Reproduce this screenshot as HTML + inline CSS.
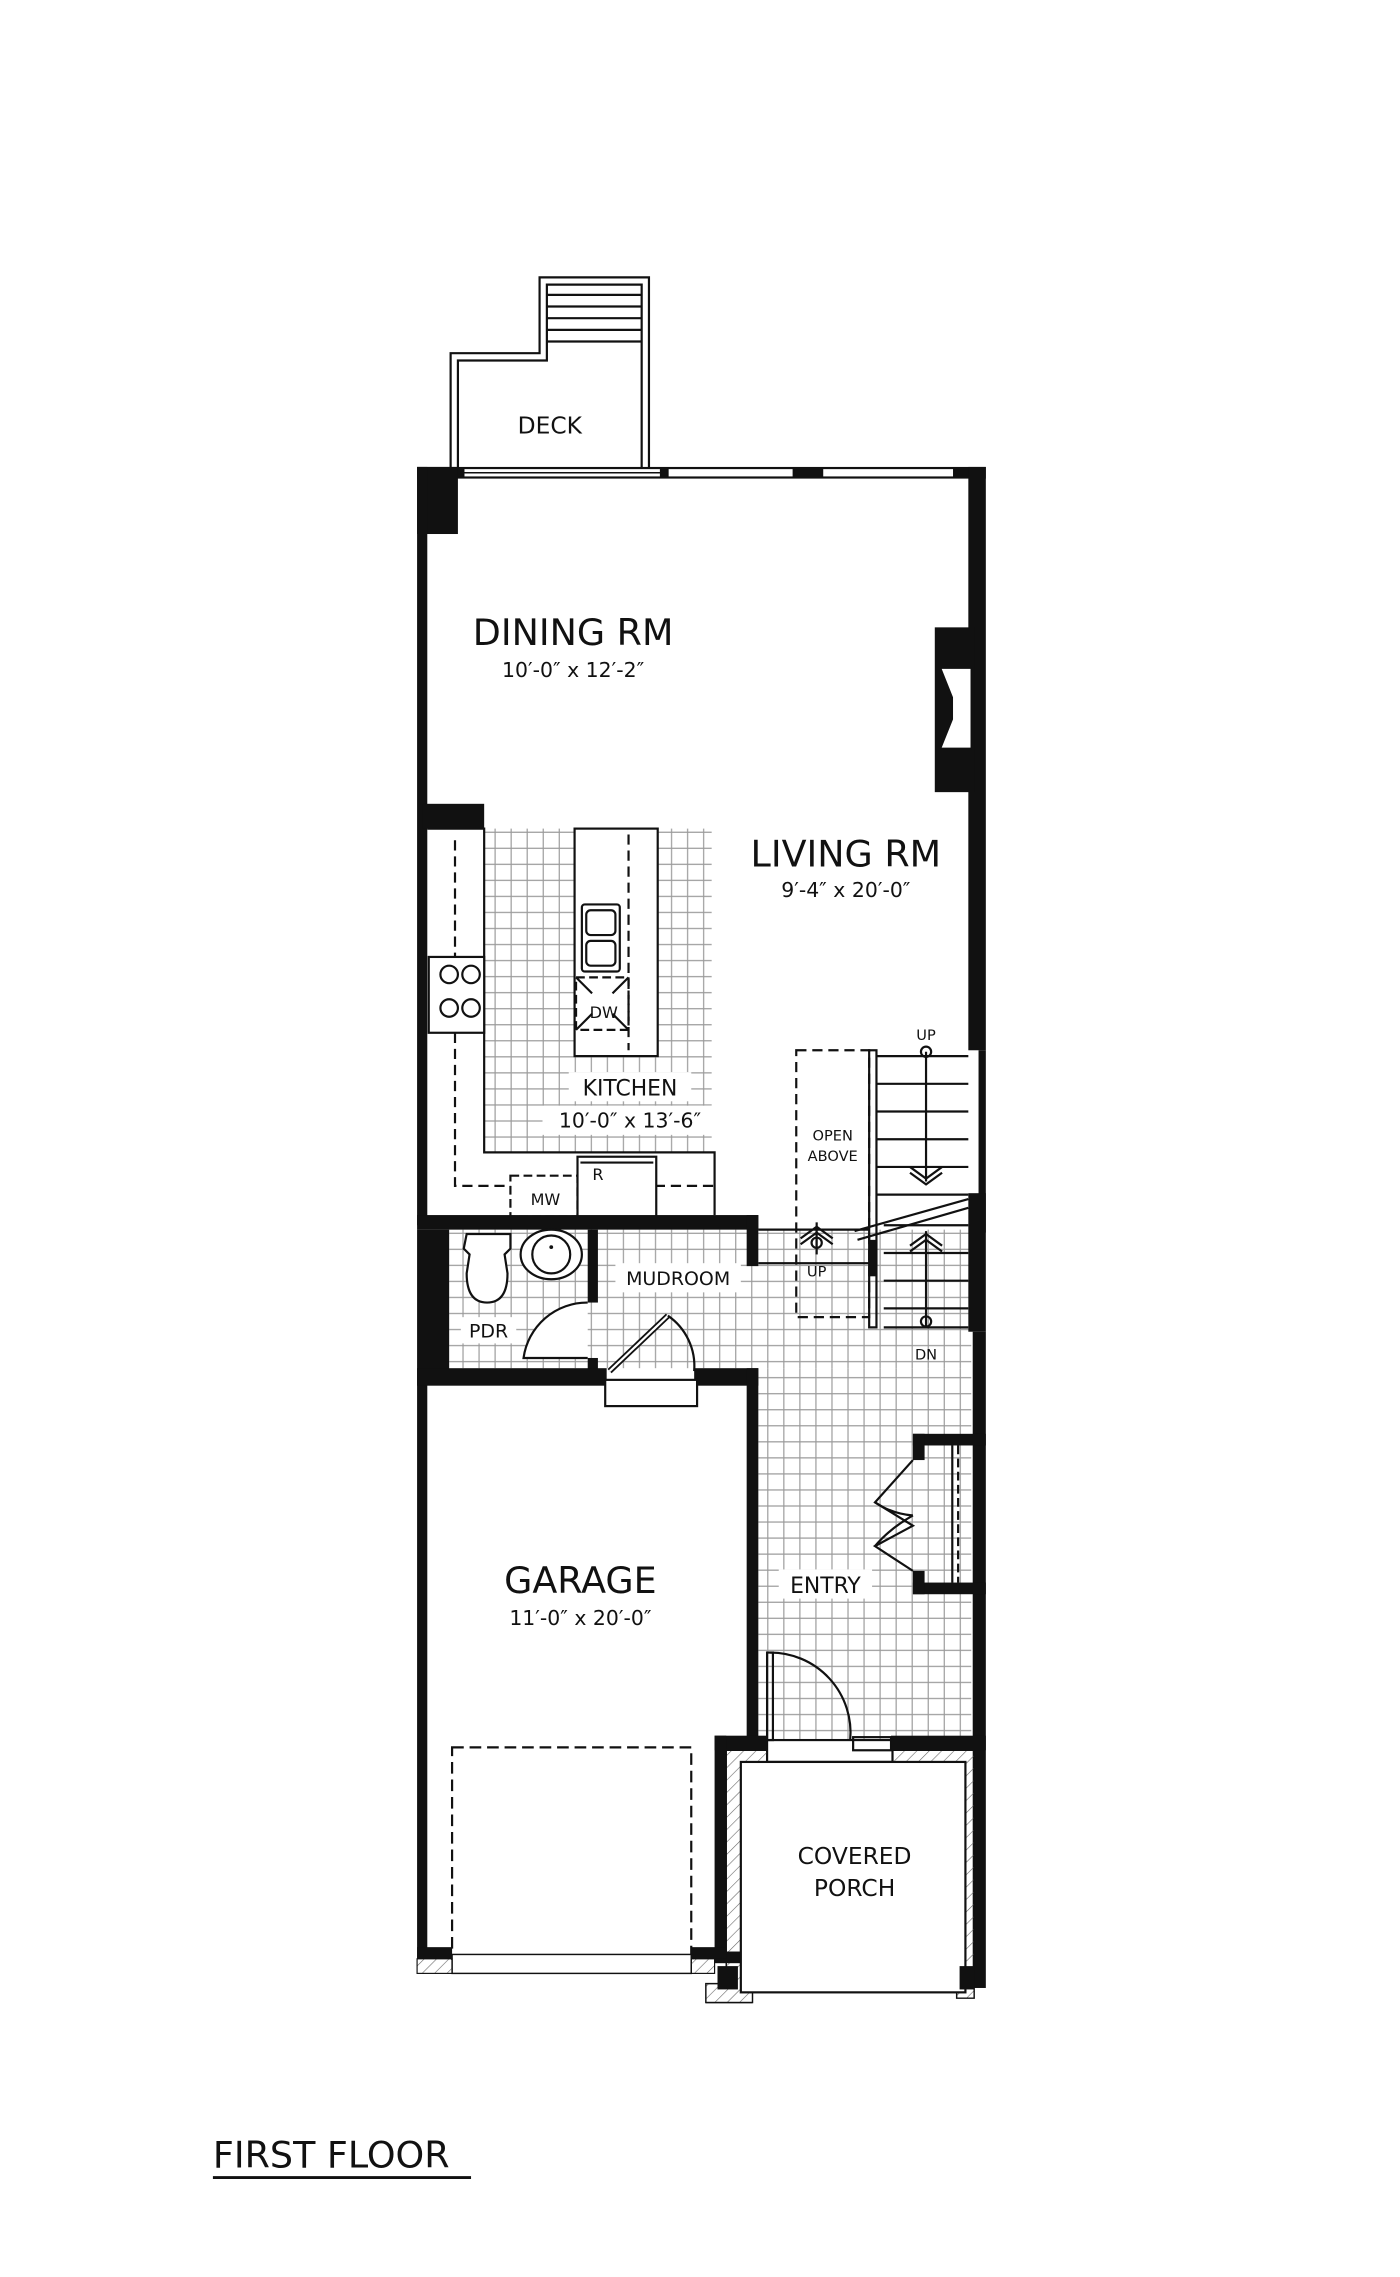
<!DOCTYPE html>
<html><head><meta charset="utf-8"><style>
html,body{margin:0;padding:0;background:#fff}
svg{display:block}
text{font-family:"DejaVu Sans","Liberation Sans",sans-serif;fill:#111}
</style></head><body>
<svg width="1400" height="2277" viewBox="0 0 960 1561" xmlns="http://www.w3.org/2000/svg">
<defs>
<pattern id="g" width="11" height="11" patternUnits="userSpaceOnUse">
<rect width="11" height="11" fill="#fff"/>
<path d="M0 0.5H11M0.5 0V11" stroke="#9a9a9a" stroke-width="0.8"/>
</pattern>
<pattern id="h" width="6" height="6" patternUnits="userSpaceOnUse" patternTransform="rotate(45)">
<path d="M0 0V6" stroke="#666" stroke-width="0.8"/>
</pattern>
</defs>
<rect width="960" height="1561" fill="#fff"/>
<g transform="translate(-2,-2)">
<!-- tile floors -->
<rect x="334" y="570" width="156" height="222" fill="url(#g)"/>
<rect x="310" y="845" width="358" height="95" fill="url(#g)"/>
<rect x="522" y="940" width="146" height="255" fill="url(#g)"/>

<!-- deck -->
<g fill="none" stroke="#111" stroke-width="1.5">
<path d="M311 322V244H372V192H447V322"/>
<path d="M316 322V249H377V197H442V322"/>
<path d="M377 204H442M377 212H442M377 220H442M377 228H442M377 236H442"/>
</g>
<text x="379" y="299" font-size="16" text-anchor="middle">DECK</text>

<!-- top wall with windows -->
<rect x="288" y="322" width="390" height="8" fill="#111"/>
<rect x="320" y="323" width="135" height="6" fill="#fff" stroke="#111"/>
<line x1="320" y1="326" x2="455" y2="326" stroke="#111"/>
<rect x="460" y="323" width="86" height="6" fill="#fff" stroke="#111"/>
<rect x="566" y="323" width="90" height="6" fill="#fff" stroke="#111"/>
<rect x="288" y="322" width="28" height="46" fill="#111"/>
<!-- left wall -->
<rect x="288" y="322" width="7" height="520" fill="#111"/>
<rect x="288" y="845" width="22" height="100" fill="#111"/>
<rect x="288" y="945" width="7" height="400" fill="#111"/>
<rect x="292" y="553" width="42" height="17" fill="#111"/>
<!-- right wall -->
<rect x="666" y="322" width="12" height="400" fill="#111"/>
<rect x="673" y="722" width="5" height="125" fill="#111"/>
<rect x="666" y="820" width="12" height="95" fill="#111"/>
<rect x="669" y="915" width="9" height="450" fill="#111"/>
<rect x="643" y="432" width="27" height="113" fill="#111"/>
<path d="M647 460H668V515H647L655 495V480Z" fill="#fff" stroke="#111"/>

<!-- kitchen counters -->
<g fill="none" stroke="#111" stroke-width="1.5">
<path d="M295 570H334V792H492V835"/>
<path d="M314 578V815H492" stroke-dasharray="7 4"/>
<rect x="296" y="658" width="38" height="52" fill="#fff"/>
<circle cx="310" cy="670" r="6"/><circle cx="325" cy="670" r="6"/>
<circle cx="310" cy="693" r="6"/><circle cx="325" cy="693" r="6"/>
<rect x="396" y="570" width="57" height="156" fill="#fff"/>
<line x1="433" y1="574" x2="433" y2="722" stroke-dasharray="7 4"/>
<rect x="401" y="622" width="26" height="46" rx="2"/>
<rect x="404" y="626" width="20" height="17" rx="3"/>
<rect x="404" y="647" width="20" height="17" rx="3"/>
<rect x="397" y="672" width="36" height="36" stroke-dasharray="6 3"/>
<path d="M397 708L408 697M433 708L422 697M397 672L408 683M433 672L422 683"/>
<rect x="352" y="808" width="46" height="28" fill="#fff" stroke-dasharray="6 3"/>
<rect x="398" y="795" width="54" height="41" fill="#fff"/>
<line x1="400" y1="799" x2="450" y2="799"/>
</g>
<text x="416" y="700" font-size="11" text-anchor="middle">DW</text>
<text x="376" y="828" font-size="11" text-anchor="middle">MW</text>
<text x="412" y="811" font-size="11" text-anchor="middle">R</text>

<!-- kitchen / pdr wall -->
<rect x="288" y="835" width="234" height="10" fill="#111"/>
<rect x="514" y="835" width="8" height="35" fill="#111"/>
<rect x="405" y="845" width="7" height="50" fill="#111"/>
<!-- toilet & sink -->
<g fill="#fff" stroke="#111" stroke-width="1.5">
<path d="M322 848H352V858L348 862L350 875Q350 895 336 895Q322 895 322 875L324 862L320 858Z"/>
<ellipse cx="380" cy="862" rx="21" ry="17"/>
<circle cx="380" cy="862" r="13"/>
</g>
<circle cx="380" cy="857" r="1.3" fill="#111"/>
<!-- pdr door -->
<path d="M405 895A44 44 0 0 0 361 933H405" fill="#fff" stroke="#111" stroke-width="1.5"/>
<rect x="405" y="933" width="7" height="10" fill="#111"/>
<!-- garage wall -->
<rect x="288" y="940" width="130" height="12" fill="#111"/>
<rect x="478" y="940" width="44" height="12" fill="#111"/>
<rect x="514" y="940" width="8" height="255" fill="#111"/>
<rect x="417" y="948" width="63" height="18" fill="#fff" stroke="#111" stroke-width="1.5"/>
<path d="M420 942L460 904" stroke="#111" stroke-width="4"/><path d="M420 942L460 904" stroke="#fff" stroke-width="1.5"/>
<path d="M460 904A42 42 0 0 1 478 942" fill="none" stroke="#111" stroke-width="1.5"/>

<!-- stair area -->
<g fill="none" stroke="#111" stroke-width="1.5">
<path d="M522 845H598M522 868H598"/>
<rect x="548" y="722" width="50" height="183" stroke-dasharray="7 4"/>
<path d="M603 726H666M603 745H666M603 764H666M603 783H666M603 802H666M603 821H666"/>
<path d="M608 842H666M608 861H666M608 880H666M608 899H666M608 912H666"/>
<line x1="637" y1="723" x2="637" y2="812"/>
<path d="M626 806L637 814L648 806M626 802L637 810L648 802"/>
<line x1="637" y1="846" x2="637" y2="912"/>
<path d="M626 856L637 848L648 856M626 860L637 852L648 860"/>
<line x1="562" y1="840" x2="562" y2="862"/>
<path d="M551 851L562 843L573 851M551 855L562 847L573 855"/>
<circle cx="562" cy="854" r="3.5"/><circle cx="637" cy="723" r="3.5"/><circle cx="637" cy="908" r="3.5"/>
<rect x="598" y="722" width="5" height="190"/>
<path d="M588 846L666 824M590 852L666 830"/>
</g>
<rect x="598" y="852" width="5" height="25" fill="#111"/>
<text x="637" y="715" font-size="10" text-anchor="middle">UP</text>
<text x="562" y="877" font-size="10" text-anchor="middle">UP</text>
<text x="637" y="934" font-size="10" text-anchor="middle">DN</text>
<text x="573" y="784" font-size="10" text-anchor="middle">OPEN</text>
<text x="573" y="798" font-size="10" text-anchor="middle">ABOVE</text>

<!-- closet -->
<rect x="628" y="985" width="50" height="8" fill="#111"/>
<rect x="628" y="1087" width="50" height="8" fill="#111"/>
<rect x="628" y="985" width="8" height="18" fill="#111"/>
<rect x="628" y="1079" width="8" height="16" fill="#111"/>
<g fill="none" stroke="#111" stroke-width="1.5">
<line x1="655" y1="993" x2="655" y2="1087"/>
<line x1="659" y1="993" x2="659" y2="1087" stroke-dasharray="6 3"/>
<path d="M628 1003L602 1032L628 1048L602 1062L628 1079"/>
<path d="M602 1032Q614 1040 628 1041M602 1062Q612 1050 628 1041"/>
</g>

<!-- entry door -->
<g fill="none" stroke="#111" stroke-width="1.5">
<rect x="528" y="1135" width="4" height="60"/>
<path d="M530 1135A55 55 0 0 1 585 1195"/>
<rect x="587" y="1193" width="26" height="9"/>
<rect x="528" y="1195" width="86" height="15"/>
</g>

<!-- porch -->
<rect x="492" y="1192" width="36" height="10" fill="#111"/>
<rect x="613" y="1192" width="65" height="10" fill="#111"/>
<rect x="492" y="1192" width="8" height="150" fill="#111"/>
<path d="M500 1202H528V1210H510V1352H518V1375H486V1362H500Z M614 1202H670V1372H658V1352H664V1210H614Z" fill="url(#h)" stroke="#111"/>
<rect x="510" y="1210" width="154" height="158" fill="#fff" stroke="#111" stroke-width="1.5"/>
<rect x="492" y="1340" width="18" height="8" fill="#111"/>
<rect x="494" y="1350" width="14" height="16" fill="#111"/>
<rect x="660" y="1350" width="10" height="16" fill="#111"/>
<line x1="486" y1="1375" x2="518" y2="1375" stroke="#111"/>

<!-- garage -->
<rect x="312" y="1200" width="164" height="145" fill="none" stroke="#111" stroke-width="1.5" stroke-dasharray="8 4"/>
<rect x="288" y="1337" width="24" height="8" fill="#111"/>
<rect x="476" y="1337" width="24" height="8" fill="#111"/>
<rect x="312" y="1342" width="164" height="13" fill="#fff" stroke="#111"/>
<rect x="288" y="1345" width="24" height="10" fill="url(#h)" stroke="#111" stroke-width="0.8"/>
<rect x="476" y="1345" width="16" height="10" fill="url(#h)" stroke="#111" stroke-width="0.8"/>

<!-- labels -->
<text x="395" y="444" font-size="25" text-anchor="middle">DINING RM</text>
<text x="395" y="466" font-size="14" text-anchor="middle">10′-0″ x 12′-2″</text>
<text x="582" y="596" font-size="25" text-anchor="middle">LIVING RM</text>
<text x="582" y="617" font-size="14" text-anchor="middle">9′-4″ x 20′-0″</text>
<rect x="392" y="737" width="84" height="20" fill="#fff"/>
<text x="434" y="753" font-size="15" text-anchor="middle">KITCHEN</text>
<rect x="374" y="760" width="120" height="20" fill="#fff"/>
<text x="434" y="775" font-size="14" text-anchor="middle">10′-0″ x 13′-6″</text>
<rect x="424" y="868" width="86" height="20" fill="#fff"/>
<text x="467" y="883" font-size="13" text-anchor="middle">MUDROOM</text>
<rect x="318" y="905" width="38" height="18" fill="#fff"/>
<text x="337" y="919" font-size="13" text-anchor="middle">PDR</text>
<rect x="536" y="1078" width="64" height="20" fill="#fff"/>
<text x="568" y="1094" font-size="15" text-anchor="middle">ENTRY</text>
<text x="400" y="1094" font-size="25" text-anchor="middle">GARAGE</text>
<text x="400" y="1116" font-size="14" text-anchor="middle">11′-0″ x 20′-0″</text>
<text x="588" y="1280" font-size="16" text-anchor="middle">COVERED</text>
<text x="588" y="1302" font-size="16" text-anchor="middle">PORCH</text>
<text x="148" y="1488" font-size="25">FIRST FLOOR</text>
<line x1="148" y1="1495" x2="325" y2="1495" stroke="#111" stroke-width="2"/>
</g>
</svg>
</body></html>
